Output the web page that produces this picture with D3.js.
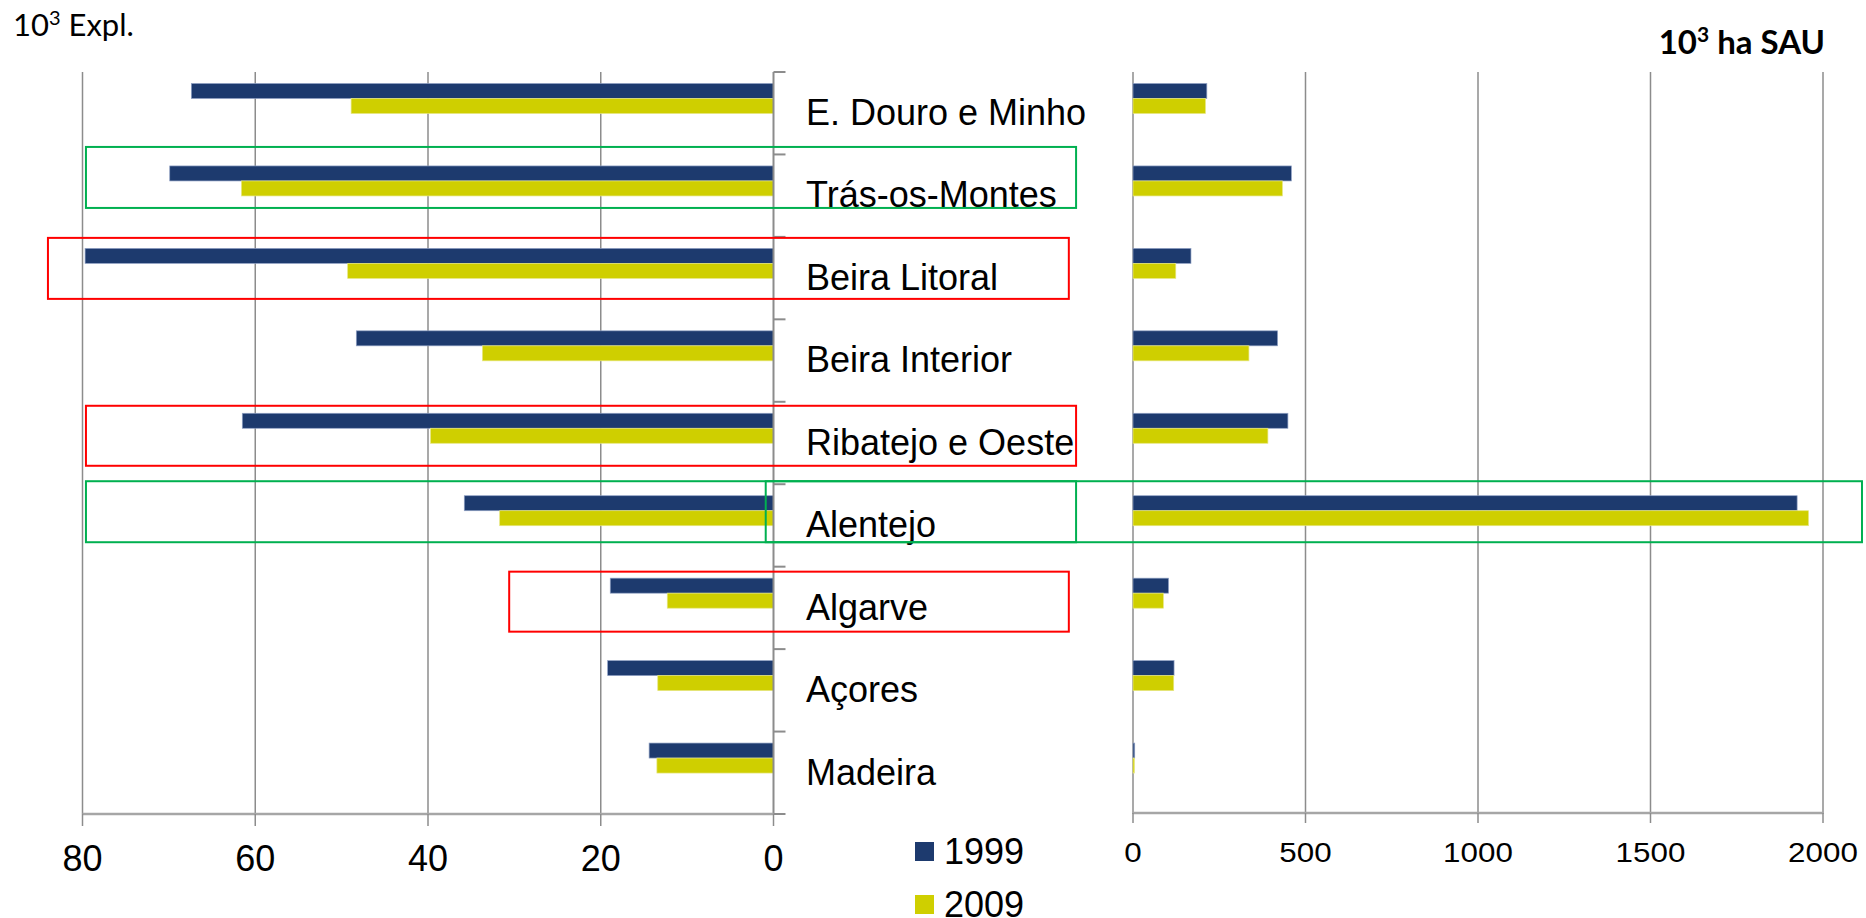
<!DOCTYPE html>
<html>
<head>
<meta charset="utf-8">
<script src="https://cdn.jsdelivr.net/npm/d3@7"></script>
<style>
  body { margin: 0; background: #fff; }
  svg { display: block; }
</style>
</head>
<body>
<svg id="chart" width="1866" height="918"></svg>
<script>
// regions (top to bottom)
var regions = ["E. Douro e Minho", "Trás-os-Montes", "Beira Litoral", "Beira Interior",
  "Ribatejo e Oeste", "Alentejo", "Algarve", "Açores", "Madeira"];
// 10^3 explorações
var expl1999 = [67.4, 69.9, 79.7, 48.3, 61.5, 35.8, 18.9, 19.2, 14.4];
var expl2009 = [48.9, 61.6, 49.3, 33.7, 39.7, 31.7, 12.3, 13.4, 13.5];
// 10^3 ha SAU
var sau1999 = [214, 459, 168, 419, 449, 1925, 103, 119, 5];
var sau2009 = [210, 433, 124, 336, 391, 1958, 88, 118, 4];
var leftTicks = [80, 60, 40, 20, 0];
var rightTicks = [0, 500, 1000, 1500, 2000];
var years = ["1999", "2009"];
// hand drawn highlight boxes: region, colour
var highlights = [
  ["Trás-os-Montes", "green"], ["Beira Litoral", "red"], ["Ribatejo e Oeste", "red"],
  ["Alentejo", "green"], ["Alentejo", "green2"], ["Algarve", "red"]
];

var blue = "#1d3a6e", yellow = "#cfcf00", grid = "#8c8c8c";
var svg = d3.select("#chart");

var plotTop = 72, plotBottom = 814;
var y = d3.scaleBand().domain(regions).range([plotTop, plotBottom]).paddingInner(0).paddingOuter(0);
var xL = d3.scaleLinear().domain([80, 0]).range([82.5, 773.5]);
var xR = d3.scaleLinear().domain([0, 2000]).range([1133, 1823]);
var barOff = 11.5, barH = 15;

// gridlines left
svg.append("g").selectAll("line").data(leftTicks.filter(function(d){ return d != 0; }))
  .enter().append("line")
  .attr("x1", function(d){ return xL(d); }).attr("x2", function(d){ return xL(d); })
  .attr("y1", plotTop).attr("y2", plotBottom)
  .style("stroke", grid).style("stroke-width", "1.5px");
// gridlines right
svg.append("g").selectAll("line").data(rightTicks)
  .enter().append("line")
  .attr("x1", function(d){ return xR(d); }).attr("x2", function(d){ return xR(d); })
  .attr("y1", plotTop).attr("y2", plotBottom)
  .style("stroke", grid).style("stroke-width", "1.5px");

// bars
function bars(vals, xs, off, col, left) {
  svg.append("g").selectAll("rect").data(vals).enter().append("rect")
    .attr("x", function(d){ return left ? xs(d) : xs(0); })
    .attr("y", function(d, i){ return y(regions[i]) + off; })
    .attr("width", function(d){ return Math.abs(xs(d) - xs(0)); })
    .attr("height", barH)
    .style("fill", col)
    .style("stroke", col == blue ? "#8fa0c4" : "#e6e680")
    .style("stroke-width", "0.7px");
}
bars(expl1999, xL, barOff, blue, true);
bars(expl2009, xL, barOff + barH, yellow, true);
bars(sau1999, xR, barOff, blue, false);
bars(sau2009, xR, barOff + barH, yellow, false);

// category axis (left chart) with ticks
svg.append("line").attr("x1", xL(0)).attr("x2", xL(0)).attr("y1", plotTop).attr("y2", plotBottom)
  .style("stroke", grid).style("stroke-width", "2px");
var bounds = regions.map(function(r){ return y(r); }).concat([plotBottom]);
svg.append("g").selectAll("line").data(bounds).enter().append("line")
  .attr("x1", xL(0)).attr("x2", xL(0) + 12)
  .attr("y1", function(d){ return d; }).attr("y2", function(d){ return d; })
  .style("stroke", grid).style("stroke-width", "2px");

// value axes (bottom)
svg.append("line").attr("x1", xL(80)).attr("x2", xL(0)).attr("y1", plotBottom).attr("y2", plotBottom)
  .style("stroke", "#a6a6a6").style("stroke-width", "2.5px");
svg.append("line").attr("x1", xR(0)).attr("x2", xR(2000)).attr("y1", plotBottom - 1).attr("y2", plotBottom - 1)
  .style("stroke", "#a6a6a6").style("stroke-width", "2.5px");
svg.append("g").selectAll("line").data(leftTicks).enter().append("line")
  .attr("x1", function(d){ return xL(d); }).attr("x2", function(d){ return xL(d); })
  .attr("y1", plotBottom).attr("y2", plotBottom + 12)
  .style("stroke", grid).style("stroke-width", "1.5px");
svg.append("g").selectAll("line").data(rightTicks).enter().append("line")
  .attr("x1", function(d){ return xR(d); }).attr("x2", function(d){ return xR(d); })
  .attr("y1", plotBottom - 1).attr("y2", plotBottom + 9)
  .style("stroke", grid).style("stroke-width", "1.5px");

svg.append("g").selectAll("text").data(leftTicks).enter().append("text")
  .attr("x", function(d){ return xL(d); }).attr("y", 871)
  .attr("text-anchor", "middle")
  .style("font-family", "'Liberation Sans', Arial, sans-serif").style("font-size", "36px")
  .text(function(d){ return d; });
svg.append("g").selectAll("text").data(rightTicks).enter().append("text")
  .attr("transform", function(d){ return "translate(" + xR(d) + ",862) scale(1.12,1)"; })
  .attr("text-anchor", "middle")
  .style("font-family", "'Liberation Sans', Arial, sans-serif").style("font-size", "28px")
  .text(function(d){ return d; });

// region labels
svg.append("g").selectAll("text").data(regions).enter().append("text")
  .attr("x", 806).attr("y", function(d){ return y(d) + 53; })
  .style("font-family", "'Liberation Sans', Arial, sans-serif").style("font-size", "36px")
  .style("fill", "#000")
  .text(function(d){ return d; });

// legend
var leg = svg.append("g").selectAll("g").data(years).enter().append("g")
  .attr("transform", function(d, i){ return "translate(915," + (842 + i * 53) + ")"; });
leg.append("rect").attr("width", 19).attr("height", 19)
  .style("fill", function(d, i){ return i == 0 ? blue : yellow; });
leg.append("text").attr("x", 29).attr("y", 22)
  .style("font-family", "'Liberation Sans', Arial, sans-serif").style("font-size", "36px")
  .text(function(d){ return d; });

// axis titles
var t1 = svg.append("text").attr("x", 13).attr("y", 36)
  .style("font-family", "Lato, 'Open Sans', sans-serif").style("font-size", "31px");
t1.append("tspan").text("10");
t1.append("tspan").attr("dy", -11).style("font-size", "20px").text("3");
t1.append("tspan").attr("dy", 11).text(" Expl.");

var t2 = svg.append("text").attr("x", 1825).attr("y", 54).attr("text-anchor", "end")
  .style("font-family", "Lato, 'Open Sans', sans-serif").style("font-size", "33px")
  .style("font-weight", "bold");
t2.append("tspan").text("10");
t2.append("tspan").attr("dy", -12).style("font-size", "21px").text("3");
t2.append("tspan").attr("dy", 12).text(" ha SAU");

// highlight boxes
var boxes = {
  "Trás-os-Montes|green": [xL(79.6), xR(-165), -7.5, 53.5],
  "Beira Litoral|red": [xL(84), xR(-186), 1, 62],
  "Ribatejo e Oeste|red": [xL(79.6), xR(-165), 4, 64],
  "Alentejo|green": [xL(79.6), xR(-165), -3, 58],
  "Alentejo|green2": [xL(0.9), xR(2113), -3, 58],
  "Algarve|red": [xL(30.6), xR(-186), 5, 65]
};
highlights.forEach(function(h) {
  var b = boxes[h[0] + "|" + h[1]];
  var y0 = y(h[0]);
  svg.append("rect")
    .attr("x", b[0]).attr("y", y0 + b[2])
    .attr("width", b[1] - b[0]).attr("height", b[3] - b[2])
    .style("fill", "none")
    .style("stroke", h[1] == "red" ? "#ff0000" : "#00b050")
    .style("stroke-width", "2px");
});
</script>
</body>
</html>
